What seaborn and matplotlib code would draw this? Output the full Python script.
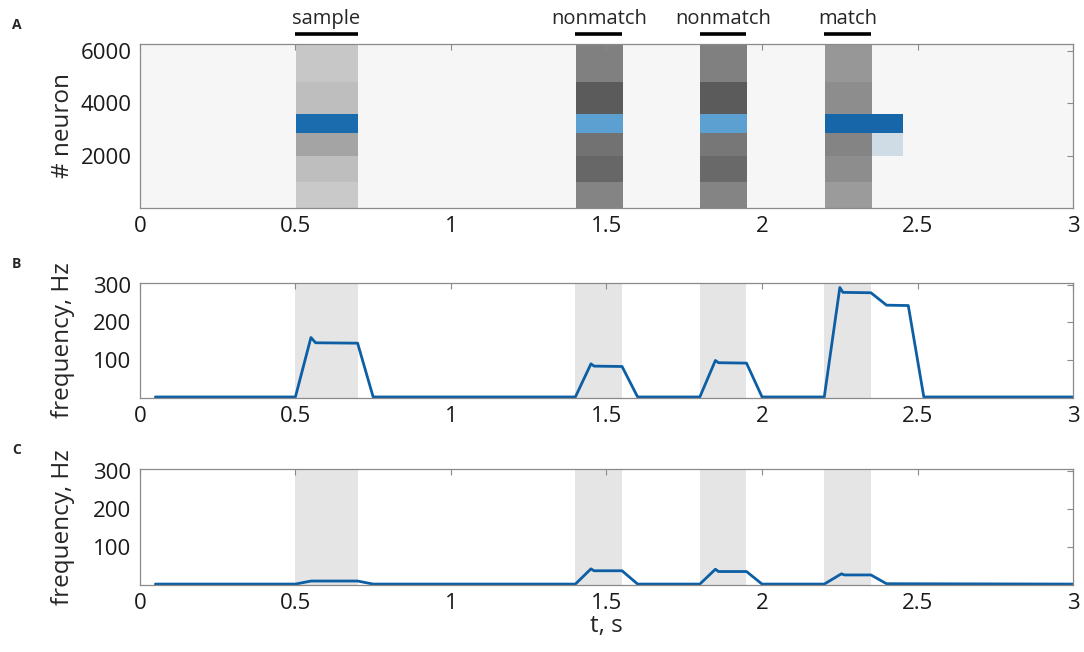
import numpy as np
import seaborn as sns
import matplotlib
matplotlib.use("Agg")
import matplotlib.pyplot as plt

# stimulus windows (s)
stim_names = ["sample", "nonmatch", "nonmatch", "match"]
stim_start = [0.50, 1.40, 1.80, 2.20]
stim_end = [0.70, 1.55, 1.95, 2.35]

# raster density, per neuron band
neuron_edges = [0, 1000, 2000, 2850, 3600, 4800, 6250]
bg_dark = 0.035
win_dark = [
    [0.12, 0.17, 0.28, 0.0, 0.17, 0.13],   # sample
    [0.42, 0.55, 0.50, 0.0, 0.60, 0.44],   # nonmatch 1
    [0.42, 0.54, 0.48, 0.0, 0.60, 0.44],   # nonmatch 2
    [0.32, 0.38, 0.42, 0.0, 0.38, 0.34],   # match
]
# selective population (blue band), neurons 2850-3600
blue_lo, blue_hi = 2850, 3600
blue_end = [0.70, 1.55, 1.95, 2.45]
blue_col = ["#1b6cae", "#5c9fd1", "#5c9fd1", "#1766a9"]
# faint trailing activity after match, neurons 2000-2850
faint_lo, faint_hi, faint_t0, faint_t1 = 2000, 2850, 2.35, 2.45

# population rate, selective neurons (panel B)
t_b = [0.05, 0.50, 0.55, 0.565, 0.70, 0.75, 1.40, 1.45, 1.46, 1.55, 1.60,
       1.80, 1.85, 1.86, 1.95, 2.00, 2.20, 2.25, 2.26, 2.35, 2.40, 2.47, 2.52, 3.00]
r_b = [2, 2, 160, 146, 145, 2, 2, 90, 84, 83, 2,
       2, 99, 93, 92, 2, 2, 293, 280, 279, 246, 245, 2, 2]

# population rate, non-selective neurons (panel C)
t_c = [0.05, 0.50, 0.55, 0.70, 0.75, 1.40, 1.45, 1.46, 1.55, 1.60,
       1.80, 1.85, 1.86, 1.95, 2.00, 2.20, 2.255, 2.265, 2.35, 2.40, 3.00]
r_c = [2, 2, 10, 10, 2, 2, 42, 37, 37, 2,
       2, 41, 35, 35, 2, 2, 29, 26, 26, 3, 2]

line_col = "#0c5fa4"
span_col = "#e5e5e5"
edge_col = "#8a8a8a"

sns.set_style("white")
plt.rcParams["font.family"] = ["Open Sans", "DejaVu Sans"]

fig = plt.figure(figsize=(10.84, 6.52), dpi=100)
L, W = 0.129, 0.861
axA = fig.add_axes([L, 0.681, W, 0.2515])
axB = fig.add_axes([L, 0.390, W, 0.176])
axC = fig.add_axes([L, 0.103, W, 0.178])

# ---- panel A: raster density image ----
dt, dn = 0.005, 50
tc = np.arange(0, 3.0, dt) + dt / 2
nc = np.arange(0, 6250, dn) + dn / 2
img = np.ones((len(nc), len(tc), 3)) * (1 - bg_dark)
for k in range(len(stim_start)):
    cols = (tc >= stim_start[k]) & (tc < stim_end[k])
    for b in range(len(neuron_edges) - 1):
        rows = (nc >= neuron_edges[b]) & (nc < neuron_edges[b + 1])
        img[np.ix_(rows, cols)] = 0.898 * (1 - win_dark[k][b])
    bcols = (tc >= stim_start[k]) & (tc < blue_end[k])
    brows = (nc >= blue_lo) & (nc < blue_hi)
    img[np.ix_(brows, bcols)] = matplotlib.colors.to_rgb(blue_col[k])
frows = (nc >= faint_lo) & (nc < faint_hi)
fcols = (tc >= faint_t0) & (tc < faint_t1)
img[np.ix_(frows, fcols)] = matplotlib.colors.to_rgb("#cfdbe5")

axA.imshow(img, extent=[0, 3, 0, 6250], origin="lower", aspect="auto",
           interpolation="nearest")
axA.set_xlim(0, 3)
axA.set_ylim(0, 6250)
axA.set_yticks([2000, 4000, 6000])
axA.set_ylabel("# neuron", fontsize=17.5)

# stimulus markers above raster
tr = axA.get_xaxis_transform()
for name, s, e in zip(stim_names, stim_start, stim_end):
    axA.plot([s, e], [1.062, 1.062], color="black", lw=2.6,
             transform=tr, clip_on=False, solid_capstyle="butt")
    axA.text((s + e) / 2, 1.15, name, transform=tr, ha="center",
             va="center", fontsize=14.5)

# ---- panels B and C: rates ----
for ax, tt, rr in [(axB, t_b, r_b), (axC, t_c, r_c)]:
    for s, e in zip(stim_start, stim_end):
        ax.axvspan(s, e, color=span_col, lw=0, zorder=0)
    sns.lineplot(x=tt, y=rr, ax=ax, color=line_col, lw=2)
    ax.set_xlim(0, 3)
    ax.set_ylim(0, 305)
    ax.set_yticks([100, 200, 300])
    ax.set_ylabel("frequency, Hz", fontsize=17.5)

axC.set_xlabel("t, s", fontsize=17.5, labelpad=0)

for ax in (axA, axB, axC):
    ax.set_xticks([0, 0.5, 1, 1.5, 2, 2.5, 3])
    ax.set_xticklabels(["0", "0.5", "1", "1.5", "2", "2.5", "3"])
    ax.tick_params(direction="in", top=True, right=True, length=4,
                   width=0.8, color=edge_col, labelsize=16,
                   labelcolor="#1a1a1a", pad=6)
    for sp in ax.spines.values():
        sp.set_color(edge_col)
        sp.set_linewidth(0.9)
    ax.yaxis.set_label_coords(-0.070, 0.5)

fig.text(0.011, 1 - 25 / 652, "A", fontsize=10, fontweight="bold", va="center")
fig.text(0.011, 1 - 264 / 652, "B", fontsize=10, fontweight="bold", va="center")
fig.text(0.011, 1 - 450 / 652, "C", fontsize=10, fontweight="bold", va="center")

fig.savefig("out.png", dpi=100)
